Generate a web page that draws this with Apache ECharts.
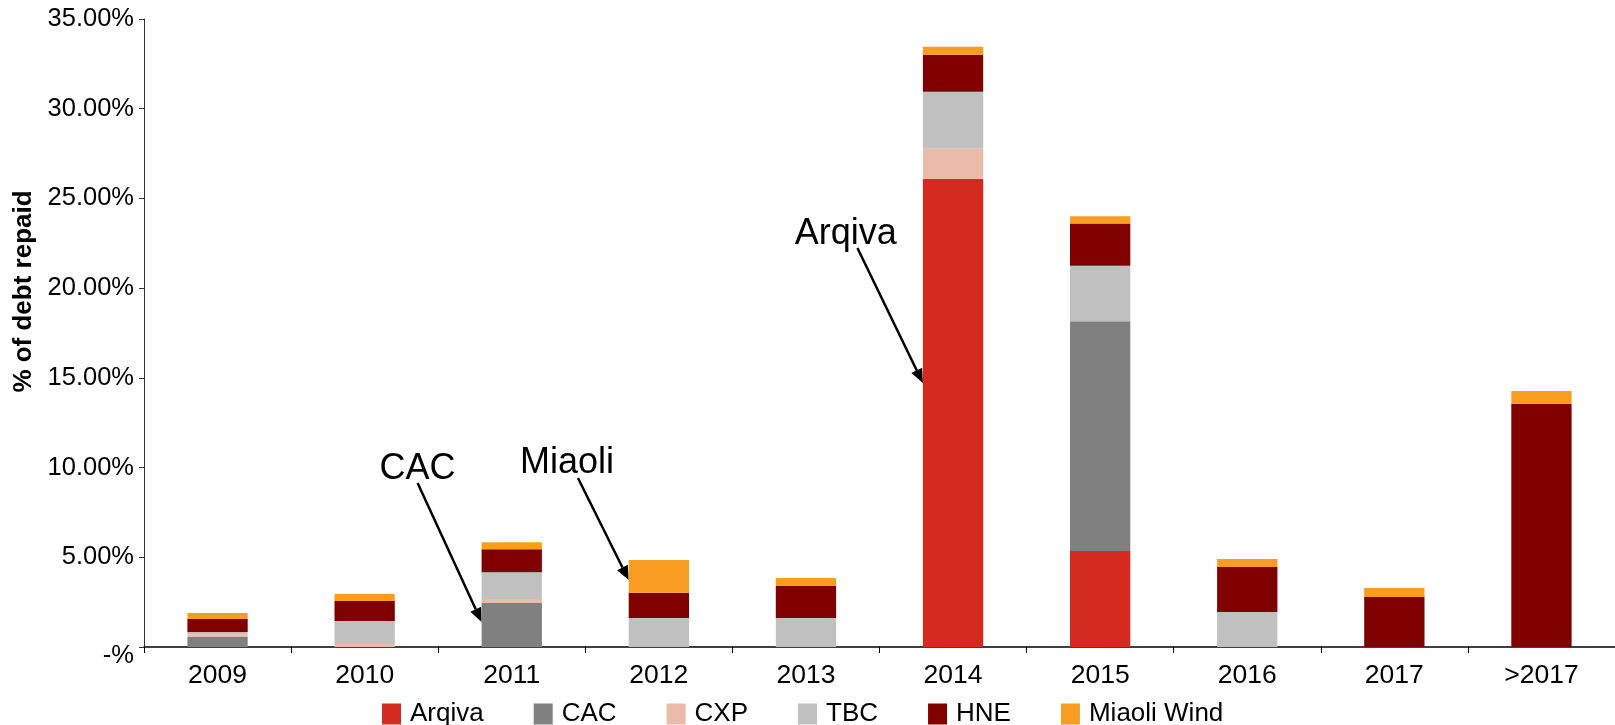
<!DOCTYPE html>
<html>
<head>
<meta charset="utf-8">
<script src="https://cdn.jsdelivr.net/npm/echarts@6/dist/echarts.min.js"></script>
<style>
html,body{margin:0;padding:0;background:#fff;}
#c{width:1615px;height:725px;}
</style>
</head>
<body>
<div id="c"></div>
<script>
const categories = ['2009','2010','2011','2012','2013','2014','2015','2016','2017','>2017'];
const seriesNames = ['Arqiva','CAC','CXP','TBC','HNE','Miaoli Wind'];
const arqiva = [0,0,0,0,0,26.1,5.35,0,0,0];
const cac    = [0.56,0,2.45,0,0,0,12.8,0,0,0];
const cxp    = [0.15,0.17,0.22,0,0,1.67,0,0,0,0];
const tbc    = [0.13,1.28,1.5,1.62,1.62,3.18,3.1,1.95,0,0];
const hne    = [0.72,1.11,1.28,1.41,1.78,2.06,2.35,2.51,2.79,13.55];
const miaoli = [0.33,0.39,0.39,1.82,0.45,0.45,0.4,0.45,0.5,0.72];
const yTicks = [0,5,10,15,20,25,30,35];
// annotations: label, category index, text value, arrow start value, arrow end value
const annLabels = ['CAC','Miaoli','Arqiva'];
const annCats = [2,3,5];
const annTextVals = [9.92,10.25,23.0];
const annStartVals = [9.14,9.42,22.24];
const annEndVals = [1.39,3.73,14.71];

const colors = ['#D52B1E','#808080','#EABBA8','#C0C0C0','#800000','#F99D22'];
const allData = [arqiva,cac,cxp,tbc,hne,miaoli];
const FONT = '"Liberation Sans", Arial, sans-serif';

const chart = echarts.init(document.getElementById('c'));
chart.setOption({
  animation:false,
  color:colors,
  textStyle:{fontFamily:FONT},
  grid:{left:144,right:0,top:19,bottom:78,containLabel:false},
  legend:{
    data:seriesNames, top:696, left:377,
    itemWidth:19, itemHeight:21, itemGap:50,
    icon:'rect',
    textStyle:{fontSize:26,color:'#000',fontFamily:FONT,padding:[0,0,0,4]}
  },
  xAxis:{
    type:'category', data:categories,
    axisLine:{lineStyle:{color:'#000',width:1.5}},
    axisTick:{show:true,length:6,lineStyle:{color:'#000'}},
    axisLabel:{fontSize:26.5,color:'#000',margin:15,fontFamily:FONT}
  },
  yAxis:{
    type:'value', min:0, max:35, interval:5,
    name:'% of debt repaid', nameLocation:'middle', nameGap:107,
    nameTextStyle:{fontSize:26,fontWeight:'bold',color:'#000',fontFamily:FONT,padding:[0,0,0,83]},
    splitLine:{show:false},
    axisLine:{show:true,lineStyle:{color:'#333',width:1}},
    axisTick:{show:true,length:5,lineStyle:{color:'#333'}},
    axisLabel:{
      fontSize:25.5,color:'#000',margin:10,fontFamily:FONT,
      formatter:function(v){ return v===0 ? '{z|-%}' : v.toFixed(2)+'%'; },
      rich:{z:{fontSize:25.5,color:'#000',fontFamily:FONT,padding:[18,0,0,0]}}
    }
  },
  series: seriesNames.map((n,i)=>({
    name:n, type:'bar', stack:'total', data:allData[i],
    barCategoryGap:'59%', itemStyle:{color:colors[i]}
  }))
});

function addAnnotations(){
  const els = [];
  for(let i=0;i<annLabels.length;i++){
    const cw = (chart.getWidth()-144)/categories.length;
    const t = chart.convertToPixel({gridIndex:0},[annCats[i],annTextVals[i]]);
    const s = chart.convertToPixel({gridIndex:0},[annCats[i],annStartVals[i]]);
    const e = chart.convertToPixel({gridIndex:0},[annCats[i],annEndVals[i]]);
    const txOff = [-0.64,-0.625,-0.73][i]*cw;
    const sOff = [-0.64,-0.55,-0.65][i]*cw;
    const eOff = -0.205*cw;
    const x1=s[0]+sOff, y1=s[1], x2=e[0]+eOff, y2=e[1];
    els.push({type:'text', x:t[0]+txOff, y:t[1], style:{text:annLabels[i], font:'36px '+FONT, fill:'#000', textAlign:'center', textVerticalAlign:'middle'}});
    const ang = Math.atan2(y2-y1,x2-x1);
    const L=14, W=6;
    const bx = x2 - L*Math.cos(ang), by = y2 - L*Math.sin(ang);
    els.push({type:'line', shape:{x1:x1,y1:y1,x2:bx,y2:by}, style:{stroke:'#000',lineWidth:2.5}});
    els.push({type:'polygon', shape:{points:[[x2,y2],[bx - W*Math.sin(ang), by + W*Math.cos(ang)],[bx + W*Math.sin(ang), by - W*Math.cos(ang)]]}, style:{fill:'#000'}});
  }
  chart.setOption({graphic:els});
}
addAnnotations();
</script>
</body>
</html>
